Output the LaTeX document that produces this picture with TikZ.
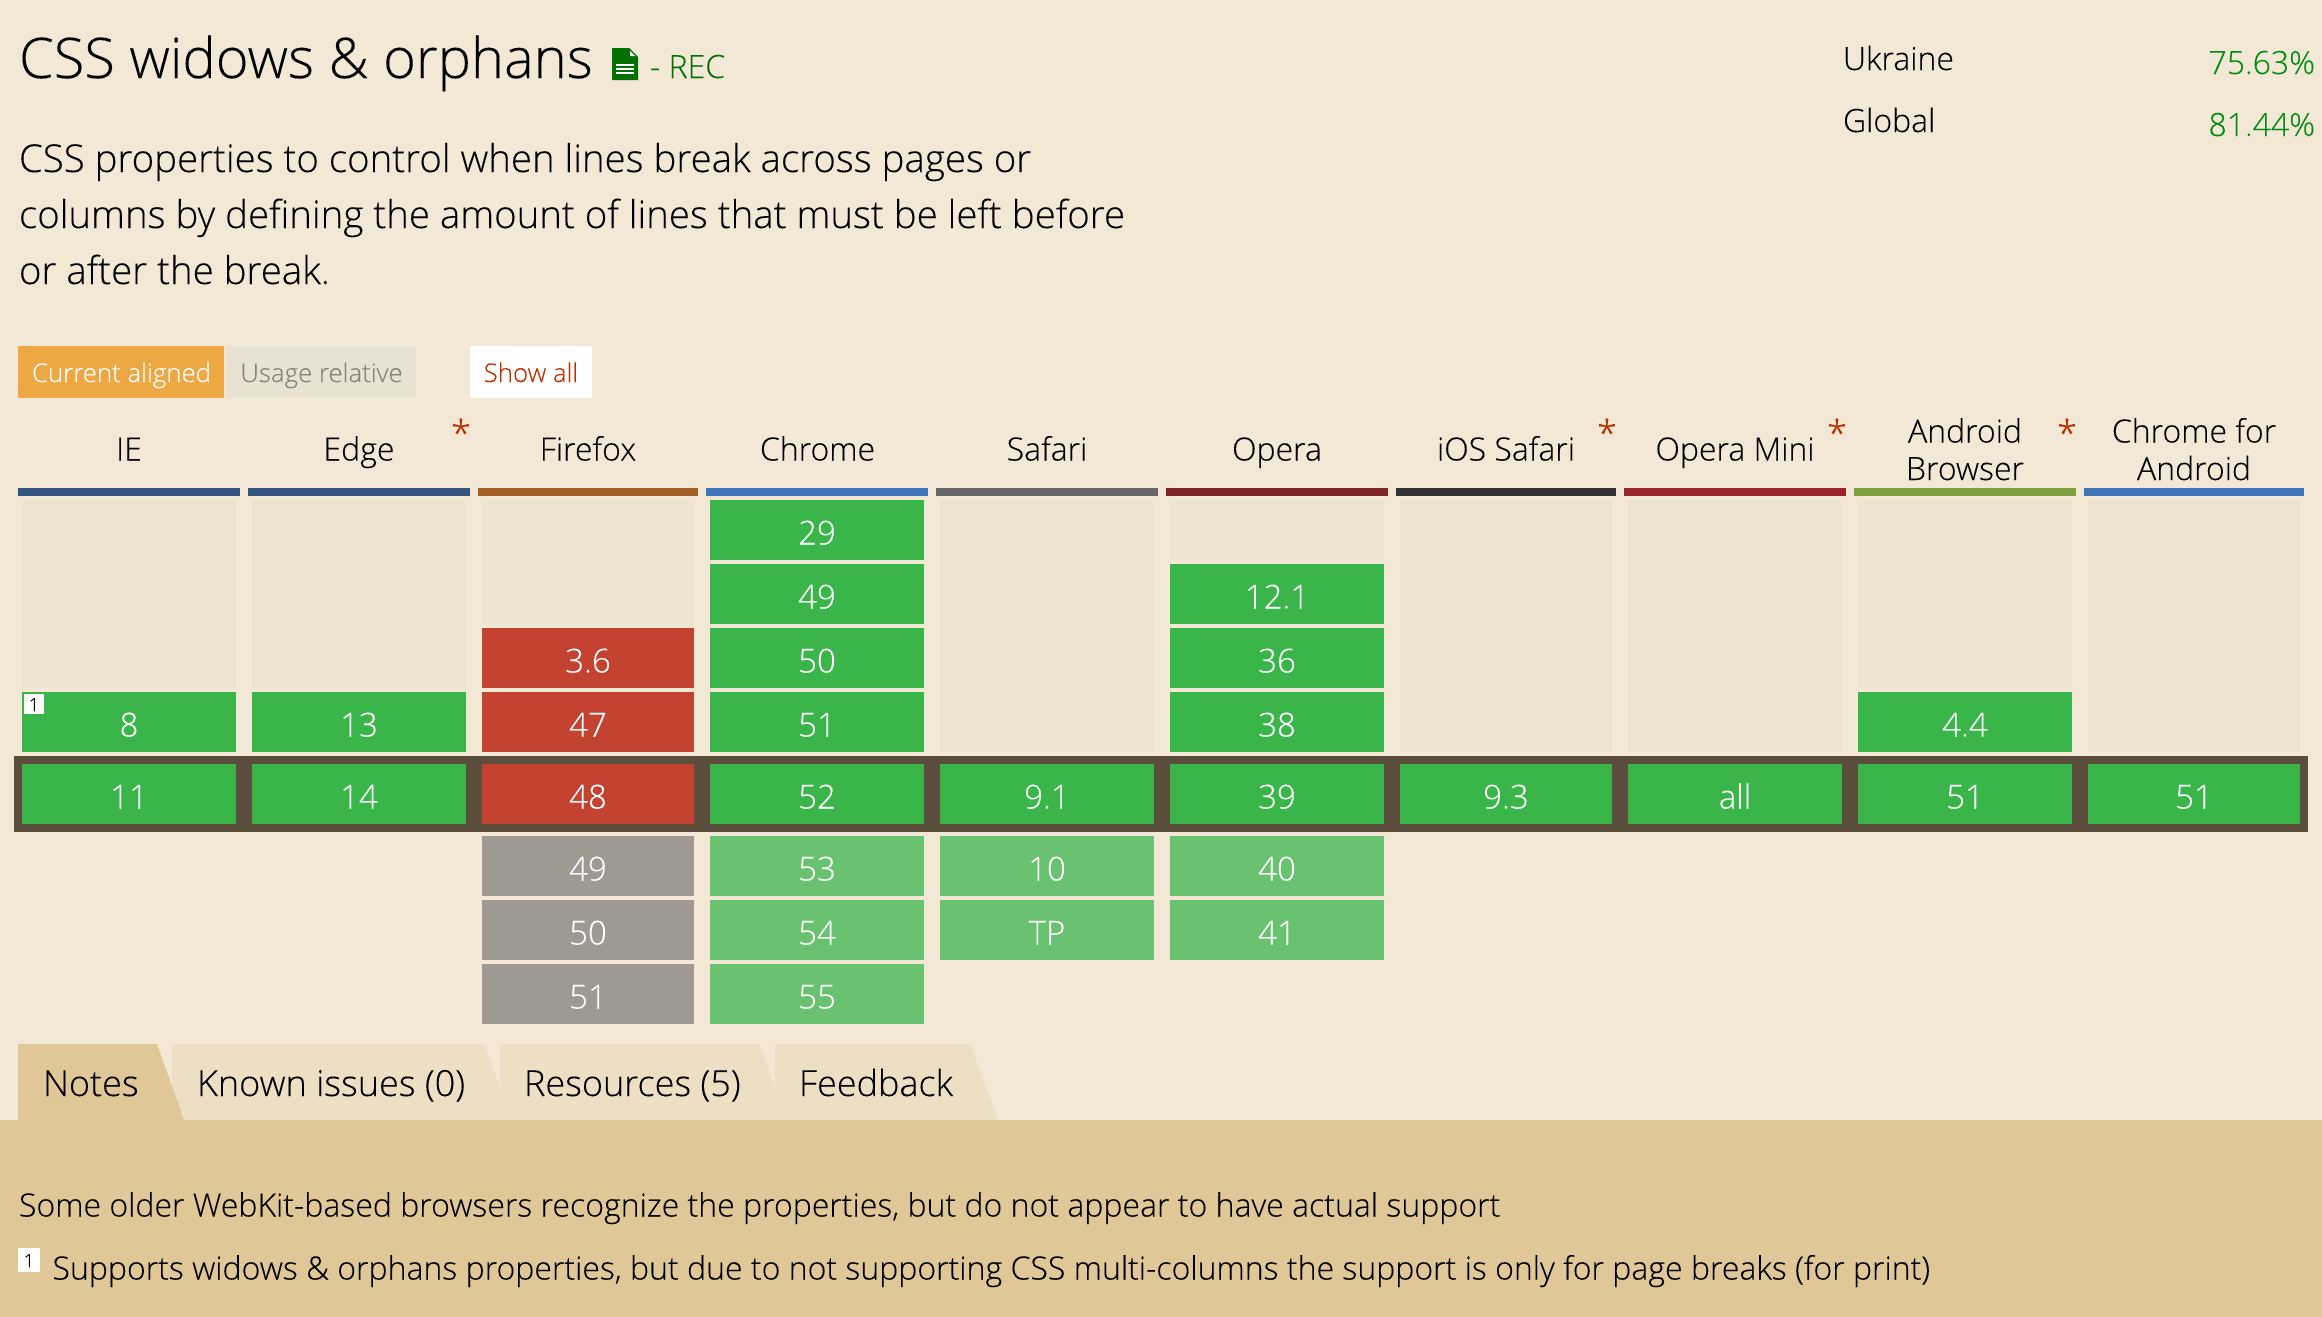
\documentclass[tikz,border=0pt]{standalone}
\usepackage{fontspec}
\setmainfont{Open Sans}[UprightFont=* Light,FakeBold=0.12]
\definecolor{pagebg}{HTML}{F3E8D6}
\definecolor{blank}{HTML}{ECE3D1}
\definecolor{yes}{HTML}{39B54A}
\definecolor{future}{HTML}{68C270}
\definecolor{no}{HTML}{C44230}
\definecolor{grayc}{HTML}{9E9A92}
\definecolor{band}{HTML}{5A4D3B}
\definecolor{taba}{HTML}{DFC797}
\definecolor{tabb}{HTML}{ECDFC4}
\definecolor{orangeb}{HTML}{EEA843}
\definecolor{usageb}{HTML}{E9E2D2}
\definecolor{accent}{HTML}{BC3000}
\definecolor{recg}{HTML}{007000}
\definecolor{pctg}{HTML}{008C10}
\definecolor{ink}{HTML}{000000}
\definecolor{barie}{HTML}{34567F}
\definecolor{barff}{HTML}{A35F25}
\definecolor{barch}{HTML}{3F76B7}
\definecolor{barsa}{HTML}{666666}
\definecolor{barop}{HTML}{7F2428}
\definecolor{barios}{HTML}{333333}
\definecolor{barom}{HTML}{98262B}
\definecolor{baran}{HTML}{7EA03C}
\tikzset{
  txt/.style={inner sep=0pt,outer sep=0pt,anchor=base west,text=ink},
  ctr/.style={inner sep=0pt,outer sep=0pt,anchor=base,text=ink},
  celltxt/.style={ctr,text=white,font=\fontsize{33}{33}\selectfont},
  headtxt/.style={ctr,font=\fontsize{32}{32}\selectfont},
  star/.style={ctr,text=accent,font=\fontsize{36}{36}\selectfont},
  tabtxt/.style={txt,font=\fontsize{36}{36}\selectfont},
  notetxt/.style={txt,font=\fontsize{32.03}{32}\selectfont},
  desc/.style={txt,font=\fontsize{38.4}{38}\selectfont},
  btn/.style={ctr,font=\fontsize{25.8}{26}\selectfont},
  stat/.style={txt,font=\fontsize{32}{32}\selectfont},
  pct/.style={txt,anchor=base east,text=pctg,font=\fontsize{32}{32}\selectfont},
  supnum/.style={ctr,font=\fontsize{18}{18}\selectfont},
}
% \cellbox{name}{x1}{x2}{ytop}{colour}{text}
\newcommand{\cellbox}[6]{%
  \fill[#5] (#2,#4) rectangle (#3,#4+60);
  \node[celltxt] (#1) at ({(#2+#3)/2},#4+44.5) {#6};}
\newcommand{\blankbox}[3]{\fill[blank] (#1,500) rectangle (#2,#3);}
\newcommand{\headbar}[3]{\fill[#3] (#1,488) rectangle (#2,496);}
\begin{document}
\begin{tikzpicture}[x=1pt,y=-1pt]
\useasboundingbox (0,0) rectangle (2322,1317);
\fill[pagebg] (0,0) rectangle (2322,1317);
% title
\node[txt,font=\fontsize{56}{56}\selectfont] (title) at (19,78) {CSS widows \& orphans};
\fill[recg] (612,48) -- (612,80) -- (638,80) -- (638,57) -- (629,48) -- cycle;
\fill[white] (630,51) -- (630,56) -- (635,56) -- cycle;
\draw[white,line width=1.7pt] (616,65) -- (634,65) (616,69) -- (634,69) (616,73) -- (634,73);
\node[txt,text=recg,font=\fontsize{32}{32}\selectfont] (rec) at (650,78) {- REC};
% stats
\node[stat] (ukr) at (1843,70) {Ukraine};
\node[stat] (glob) at (1843,132) {Global};
\node[pct] (ukrp) at (2315,74) {75.63\%};
\node[pct] (globp) at (2315,136) {81.44\%};
% description
\node[desc] (d1) at (19,172) {CSS properties to control when lines break across pages or};
\node[desc] (d2) at (19,228) {columns by defining the amount of lines that must be left before};
\node[desc] (d3) at (19,284) {or after the break.};
% buttons
\fill[orangeb] (18,346) rectangle (224,398);
\fill[usageb] (226,346) rectangle (416,398);
\fill[white] (470,346) rectangle (592,398);
\node[btn,text=white] (b1) at (121.5,382) {Current aligned};
\node[btn,text=grayc!85!black] (b2) at (321.5,382) {Usage relative};
\node[btn,text=accent] (b3) at (531,382) {Show all};
% header bars
\headbar{18}{240}{barie}
\headbar{248}{470}{barie}
\headbar{478}{698}{barff}
\headbar{706}{928}{barch}
\headbar{936}{1158}{barsa}
\headbar{1166}{1388}{barop}
\headbar{1396}{1616}{barios}
\headbar{1624}{1846}{barom}
\headbar{1854}{2076}{baran}
\headbar{2084}{2304}{barch}
% header labels
\node[headtxt] (hie) at (129,460.5) {IE};
\node[headtxt] (hed) at (359,460.5) {Edge};
\node[headtxt] (hff) at (588,460.5) {Firefox};
\node[headtxt] (hch) at (817.5,460.5) {Chrome};
\node[headtxt] (hsa) at (1047,460.5) {Safari};
\node[headtxt] (hop) at (1277,460.5) {Opera};
\node[headtxt] (hio) at (1506,460.5) {iOS Safari};
\node[headtxt] (hom) at (1735,460.5) {Opera Mini};
\node[headtxt] (han) at (1965,442.5) {Android};
\node[headtxt] (han2) at (1965,480) {Browser};
\node[headtxt] (hca) at (2194,442.5) {Chrome for};
\node[headtxt] (hca2) at (2194,480) {Android};
\node[star] (s1) at (461,446) {*};
\node[star] (s2) at (1607,446) {*};
\node[star] (s3) at (1837,446) {*};
\node[star] (s4) at (2067,446) {*};
% blank column backgrounds
\blankbox{22}{236}{688}
\blankbox{252}{466}{688}
\blankbox{482}{694}{624}
\blankbox{940}{1154}{752}
\blankbox{1170}{1384}{560}
\blankbox{1400}{1612}{752}
\blankbox{1628}{1842}{752}
\blankbox{1858}{2072}{688}
\blankbox{2088}{2300}{752}
% current row band
\fill[band] (14,756) rectangle (2308,832);
% cells above
\cellbox{c8}{22}{236}{692}{yes}{8}
\cellbox{c13}{252}{466}{692}{yes}{13}
\cellbox{f36}{482}{694}{628}{no}{3.6}
\cellbox{f47}{482}{694}{692}{no}{47}
\cellbox{ch29}{710}{924}{500}{yes}{29}
\cellbox{ch49}{710}{924}{564}{yes}{49}
\cellbox{ch50}{710}{924}{628}{yes}{50}
\cellbox{ch51}{710}{924}{692}{yes}{51}
\cellbox{op12}{1170}{1384}{564}{yes}{12.1}
\cellbox{op36}{1170}{1384}{628}{yes}{36}
\cellbox{op38}{1170}{1384}{692}{yes}{38}
\cellbox{an44}{1858}{2072}{692}{yes}{4.4}
% current row
\cellbox{r1}{22}{236}{764}{yes}{11}
\cellbox{r2}{252}{466}{764}{yes}{14}
\cellbox{r3}{482}{694}{764}{no}{48}
\cellbox{r4}{710}{924}{764}{yes}{52}
\cellbox{r5}{940}{1154}{764}{yes}{9.1}
\cellbox{r6}{1170}{1384}{764}{yes}{39}
\cellbox{r7}{1400}{1612}{764}{yes}{9.3}
\cellbox{r8}{1628}{1842}{764}{yes}{all}
\cellbox{r9}{1858}{2072}{764}{yes}{51}
\cellbox{r10}{2088}{2300}{764}{yes}{51}
% cells below
\cellbox{f49}{482}{694}{836}{grayc}{49}
\cellbox{f50}{482}{694}{900}{grayc}{50}
\cellbox{f51}{482}{694}{964}{grayc}{51}
\cellbox{ch53}{710}{924}{836}{future}{53}
\cellbox{ch54}{710}{924}{900}{future}{54}
\cellbox{ch55}{710}{924}{964}{future}{55}
\cellbox{sa10}{940}{1154}{836}{future}{10}
\cellbox{satp}{940}{1154}{900}{future}{TP}
\cellbox{op40}{1170}{1384}{836}{future}{40}
\cellbox{op41}{1170}{1384}{900}{future}{41}
% superscript on IE 8
\fill[white] (24,694) rectangle (44,714);
\node[supnum] (sup8) at (34,711) {1};
% notes panel and tabs
\fill[taba] (0,1120) rectangle (2322,1317);
\fill[tabb] (775,1044) -- (970,1044) -- (998,1120) -- (775,1120) -- cycle;
\fill[tabb] (500,1044) -- (759,1044) -- (787,1120) -- (500,1120) -- cycle;
\fill[tabb] (172,1044) -- (484,1044) -- (512,1120) -- (172,1120) -- cycle;
\fill[taba] (18,1044) -- (157,1044) -- (184,1120) -- (18,1120) -- cycle;
\node[tabtxt] (t1) at (43,1096) {Notes};
\node[tabtxt] (t2) at (197,1096) {Known issues (0)};
\node[tabtxt] (t3) at (524,1096) {Resources (5)};
\node[tabtxt] (t4) at (799,1096) {Feedback};
% notes text
\node[notetxt] (n1) at (19,1216.5) {Some older WebKit-based browsers recognize the properties, but do not appear to have actual support};
\fill[white] (18,1248) rectangle (40,1272);
\node[supnum] (sup1) at (29,1267) {1};
\node[notetxt] (n2) at (52.5,1279.5) {Supports widows \& orphans properties, but due to not supporting CSS multi-columns the support is only for page breaks (for print)};
\end{tikzpicture}
\end{document}
